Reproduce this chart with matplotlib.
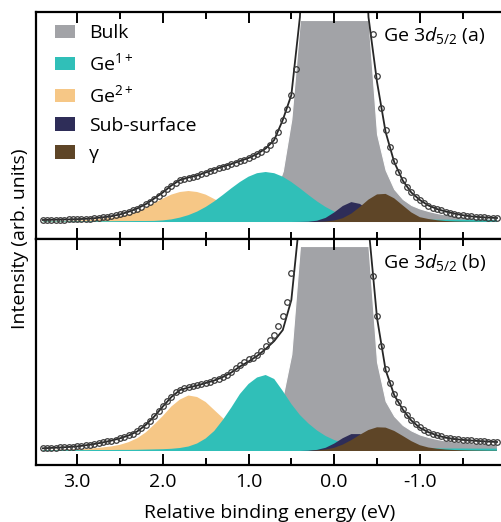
import numpy as np
import matplotlib
matplotlib.use('Agg')
import matplotlib.pyplot as plt
from matplotlib.patches import Patch
from matplotlib.ticker import MultipleLocator

plt.rcParams['font.family'] = ['Open Sans', 'DejaVu Sans']
plt.rcParams['mathtext.fontset'] = 'custom'
plt.rcParams['mathtext.rm'] = 'Open Sans'
plt.rcParams['mathtext.it'] = 'Open Sans:italic'
plt.rcParams['font.size'] = 14

nan = np.nan

# energy grids (eV): fitted components every 0.1 eV, measured points every 0.05 eV
E_comp = np.round(np.arange(3.4, -1.95, -0.1), 2)
E_data = np.round(np.arange(3.40, -1.925, -0.05), 3)

# ---- panel (a) ----
bulk_a = [0.3, 0.3, 0.4, 0.4, 0.5, 0.5, 0.6, 0.7, 0.8, 0.9,
          1.0, 1.1, 1.3, 1.5, 1.8, 2.1, 2.5, 2.9, 3.4, 4.0,
          4.8, 5.8, 7.0, 8.5, 10.5, 13.5, 18, 27, 51, 103,
          202, 202, 202, 202, 202, 202, 202, 202, 202, 88,
          52, 33, 23, 17, 13.5, 11, 9, 7.5, 6.3, 5.2,
          4.4, 3.9, 3.5, 3.2]
ge2_a = [0.8, 0.9, 1.0, 1.2, 1.5, 2.0, 2.6, 3.3, 4.2, 5.6,
         7.6, 10.3, 14.2, 18.8, 23.4, 27.4, 30, 31, 30, 27.4,
         23, 18.5, 14, 9.8, 6.6, 4.3, 2.8, 2.0, 1.6, 1.4,
         1.3, 1.2, 1.2, 1.1, 1.1, 1.0, 1.0, 1.0, 0.9, 0.9,
         0.9, 0.9, 0.8, 0.8, 0.8, 0.8, 0.8, 0.8, 0.8, 0.8,
         0.8, 0.8, 0.8, 0.8]
ge1_a = [0.6, 0.6, 0.6, 0.7, 0.7, 0.7, 0.8, 0.8, 0.8, 0.9,
         0.9, 1.0, 1.0, 1.1, 1.6, 2.6, 4.4, 6.9, 10.4, 15,
         20.6, 27, 33.7, 40, 45.3, 48.8, 50, 48.8, 45.3, 40,
         33.7, 27, 20.6, 15, 10.5, 7.2, 5.0, 3.8, 3.2, 2.9,
         2.7, 2.6, 2.5, 2.5, 2.4, 2.4, 2.3, 2.3, 2.3, 2.2,
         2.2, 2.2, 2.1, 2.1]
sub_a = [0, 0, 0, 0, 0, 0, 0, 0, 0, 0,
         0, 0, 0, 0, 0, 0, 0, 0, 0, 0,
         0, 0, 0, 0, 0, 0, 0, 0, 0, 0,
         0.1, 0.3, 1.3, 4.1, 9.5, 16, 19.9, 18.1, 12.1, 6.0,
         2.2, 0.6, 0.2, 0.1, 0, 0, 0, 0, 0, 0,
         0, 0, 0, 0]
gam_a = [0, 0, 0, 0, 0, 0, 0, 0, 0, 0,
         0, 0, 0, 0, 0, 0, 0, 0, 0, 0,
         0, 0, 0, 0, 0, 0, 0, 0, 0, 0,
         0, 0, 0.1, 0.5, 1.5, 3.8, 8.4, 15, 22.4, 27.6,
         28.1, 23.7, 16.6, 9.6, 4.8, 3.0, 1.8, 1.0, 0.6, 0.4,
         0.3, 0.2, 0.1, 0.1]
data_a = [2.0, 2.1, 2.2, 2.3, 2.4, 2.5, 2.6, 2.7, 2.8, 3.0,
          3.2, 3.5, 3.8, 4.2, 4.7, 5.2, 5.8, 6.6, 7.6, 8.8,
          10.2, 11.8, 13.5, 15.5, 17.8, 20.5, 23.5, 26.5, 29.5, 33,
          36.5, 39.5, 42, 43.5, 44.5, 45.5, 46.5, 48, 49.5, 51,
          52.5, 54, 55.5, 56.5, 58, 59.5, 61, 62.5, 64, 66,
          68, 70.5, 73.5, 77, 82, 90, 102, 113, 127, 153,
          nan, nan, nan, nan, nan, nan, nan, nan, nan, nan,
          nan, nan, nan, nan, nan, nan, nan, 188, 146, 114,
          92, 75, 61, 50, 42, 35, 30, 25.5, 22, 19,
          16.5, 14.5, 13, 11.7, 10.5, 9.5, 8.5, 7.5, 6.8, 6.0,
          5.6, 5.2, 4.9, 4.6, 4.4, 4.2, 4.0]
fit_a = [2.0, 2.2, 2.4, 2.6, 2.8, 3.2, 3.8, 4.7, 5.8, 7.6,
         10.2, 13.5, 17.8, 23.5, 29.5, 36.5, 42, 44.5, 46.5, 49.5,
         52.5, 55.5, 58, 61, 64, 68, 73.5, 82, 102, 127,
         205, 400, 400, 400, 400, 400, 400, 400, 205, 140,
         90, 60, 41.5, 29.5, 22, 16.5, 13, 10.5, 8.5, 6.8,
         5.6, 4.9, 4.4, 4.0]

# ---- panel (b) ----
bulk_b = [0.6, 0.6, 0.7, 0.7, 0.8, 0.9, 1.0, 1.1, 1.2, 1.3,
          1.4, 1.5, 1.6, 1.8, 2.0, 2.3, 2.6, 3.0, 3.5, 4.0,
          4.7, 5.5, 6.5, 8.0, 10.5, 14, 21, 32, 55, 97,
          205, 205, 205, 205, 205, 205, 205, 205, 205, 89,
          50, 35, 26, 20.5, 16.5, 14, 12, 10.5, 9.5, 8.7,
          8.0, 7.5, 7.0, 6.7]
ge2_b = [1.0, 1.1, 1.3, 1.5, 1.8, 2.2, 2.8, 3.6, 4.6, 6.2,
         8.8, 12.7, 18.5, 26.5, 35, 44.5, 51.5, 55.5, 54, 49,
         41, 33, 25, 18, 12, 7.5, 4.5, 3.0, 2.2, 1.8,
         1.6, 1.5, 1.4, 1.3, 1.2, 1.2, 1.1, 1.1, 1.1, 1.0,
         1.0, 1.0, 1.0, 1.0, 1.0, 1.0, 1.0, 1.0, 1.0, 1.0,
         1.0, 1.0, 1.0, 1.0]
ge1_b = [0.8, 0.8, 0.8, 0.9, 0.9, 0.9, 1.0, 1.0, 1.0, 1.1,
         1.1, 1.2, 1.4, 1.6, 1.8, 2.2, 3.0, 4.5, 7.5, 12.5,
         20, 31, 43.5, 57, 67, 73.5, 76, 72, 60, 47,
         36, 27.5, 20.5, 15, 11, 8.2, 6.2, 5.0, 4.2, 3.7,
         3.3, 3.0, 2.9, 2.8, 2.7, 2.6, 2.6, 2.5, 2.5, 2.5,
         2.4, 2.4, 2.4, 2.4]
sub_b = [0, 0, 0, 0, 0, 0, 0, 0, 0, 0,
         0, 0, 0, 0, 0, 0, 0, 0, 0, 0,
         0, 0, 0, 0, 0, 0, 0, 0, 0, 0,
         0, 0.3, 1.1, 3.2, 7.4, 12.8, 16.9, 16.9, 12.8, 7.4,
         3.2, 1.1, 0.3, 0.1, 0, 0, 0, 0, 0, 0,
         0, 0, 0, 0]
gam_b = [0, 0, 0, 0, 0, 0, 0, 0, 0, 0,
         0, 0, 0, 0, 0, 0, 0, 0, 0, 0,
         0, 0, 0, 0, 0, 0, 0, 0, 0, 0,
         0, 0, 0.6, 1.5, 3.2, 6.4, 10.9, 16.2, 21, 23.7,
         23.4, 20.1, 15.1, 9.9, 5.8, 3.5, 2.3, 1.5, 1.0, 0.7,
         0.5, 0.4, 0.3, 0.3]
data_b = [2.7, 2.9, 3.1, 3.3, 3.5, 3.7, 4.0, 4.3, 4.6, 5.1,
          5.7, 6.3, 7.0, 7.8, 8.6, 9.5, 10.4, 11.4, 12.7, 14.1,
          15.5, 17.2, 19.5, 22.5, 26, 30, 34.5, 39.5, 44.5, 49.5,
          54, 58.5, 61, 62.5, 63.5, 64.5, 65.5, 67, 68, 69,
          70.5, 72, 74, 76, 79, 82.5, 86, 89, 91.5, 93,
          96, 100, 105, 111, 116, 125, 135, 149, 178, nan,
          nan, nan, nan, nan, nan, nan, nan, nan, nan, nan,
          nan, nan, nan, nan, nan, nan, nan, 175, 135, 105,
          82, 68, 57, 48.5, 42, 35.5, 31, 26.5, 23.5, 21,
          19, 17.3, 15.8, 14.6, 13.4, 12.7, 12.1, 11.6, 11.2, 10.9,
          10.6, 10.3, 10.0, 9.7, 9.4, 9.2, 9.0]
fit_b = [2.7, 3.1, 3.5, 4.0, 4.6, 5.7, 7.0, 8.6, 10.4, 12.7,
         15.5, 19.5, 26, 34.5, 44.5, 54, 61, 63.5, 65.5, 68,
         70.5, 74, 78.5, 84.5, 89.5, 95, 102, 110, 121, 151,
         235, 400, 400, 400, 400, 400, 400, 400, 225, 133,
         81, 56, 41.5, 30.5, 23.2, 18.8, 15.6, 13.3, 12, 11.1,
         10.5, 9.9, 9.4, 9.0]

labels = ['Bulk', 'Ge$^{1+}$', 'Ge$^{2+}$', 'Sub-surface', '\u03b3']
colors = ['#a2a3a7', '#30bfb8', '#f6c786', '#2e2d58', '#5e4527']
xticks = [3.0, 2.0, 1.0, 0.0, -1.0]
xticklabels = ['3.0', '2.0', '1.0', '0.0', '-1.0']

fig = plt.figure(figsize=(5.02, 5.22), dpi=100)
ax_a = fig.add_axes([0.0717, 0.5431, 0.932, 0.4339])
ax_b = fig.add_axes([0.0717, 0.1092, 0.932, 0.4339])


def draw(ax, comps, data, fit, tag, ylim):
    c_bulk, c1, c2, c_sub, c_gam = colors
    bulk, ge1, ge2, sub, gam = comps
    ax.fill_between(E_comp, 0, bulk, facecolor=c_bulk, edgecolor='white', lw=0.8)
    ax.fill_between(E_comp, 0, ge2, facecolor=c2, lw=0)
    ax.fill_between(E_comp, 0, ge1, facecolor=c1, lw=0)
    ax.fill_between(E_comp, 0, sub, facecolor=c_sub, lw=0)
    ax.fill_between(E_comp, 0, gam, facecolor=c_gam, lw=0)
    ax.plot(E_comp, fit, color='#262626', lw=1.3)
    ax.plot(E_data, data, 'o', ms=4, mfc='none', mec='#3a3a3a', mew=0.9)
    ax.set_xlim(3.48, -1.98)
    ax.set_ylim(*ylim)
    ax.set_yticks([])
    ax.set_xticks(xticks)
    ax.xaxis.set_minor_locator(MultipleLocator(0.5))
    ax.tick_params(axis='x', which='both', direction='in', top=True, bottom=True, width=1.4)
    ax.tick_params(axis='x', which='major', length=8)
    ax.tick_params(axis='x', which='minor', length=5)
    for s in ax.spines.values():
        s.set_linewidth(1.6)
    ax.text(0.741, 0.871, 'Ge 3$d_{5/2}$ (' + tag + ')', transform=ax.transAxes,
            fontsize=14, va='baseline', ha='left')


draw(ax_a, [bulk_a, ge1_a, ge2_a, sub_a, gam_a], data_a, fit_a, 'a', (-16.5, 210))
draw(ax_b, [bulk_b, ge1_b, ge2_b, sub_b, gam_b], data_b, fit_b, 'b', (-14, 212.5))

ax_a.tick_params(axis='x', labelbottom=False)
ax_b.set_xticklabels(xticklabels)
ax_b.tick_params(axis='x', which='major', pad=6, labelsize=14)

handles = [Patch(facecolor=c, edgecolor='none') for c in colors]
ax_a.legend(handles, labels, loc='upper left', bbox_to_anchor=(0.04, 0.945),
            borderaxespad=0, borderpad=0, frameon=False, fontsize=14,
            handlelength=1.05, handleheight=0.7, handletextpad=0.7,
            labelspacing=0.52)

fig.text(0.04, 0.543, 'Intensity (arb. units)', rotation=90, ha='center', va='center',
         fontsize=14)
fig.text(0.537, 0.008, 'Relative binding energy (eV)', ha='center', va='baseline',
         fontsize=14)

fig.savefig('out.png', dpi=100)
